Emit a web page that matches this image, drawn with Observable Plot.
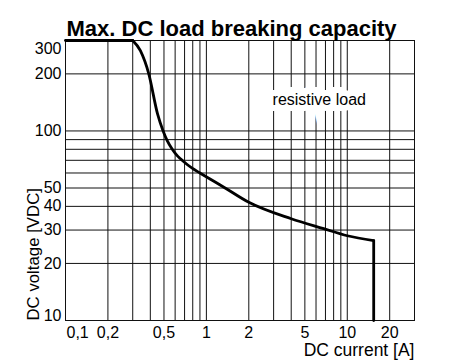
<!DOCTYPE html>
<html>
<head>
<meta charset="utf-8">
<script src="https://cdn.jsdelivr.net/npm/d3@7"></script>
<script src="https://cdn.jsdelivr.net/npm/@observablehq/plot@0.6"></script>
<style>
  html, body { margin: 0; padding: 0; background: #fff; }
  svg { display: block; }
</style>
</head>
<body>
<div id="chart"></div>
<script>
// ---- data ----
const titleText = "Max. DC load breaking capacity";
const xLabel = "DC current [A]";
const yLabel = "DC voltage [VDC]";
const noteText = "resistive load";

// limit curve (current A, voltage VDC)
const curveI = [0.3, 0.34, 0.39, 0.45, 0.493, 0.527, 0.571, 0.614, 0.655, 0.723, 0.797, 0.9, 1.33, 2, 4, 6.8, 10, 15.4];
const curveV = [300, 265, 200, 123, 100, 89, 80.4, 74.8, 71.3, 66.9, 63.4, 60, 50.5, 42, 34.4, 30.5, 28, 26.4];
// flat max-voltage part and current cut-off
const flatI = [0.1, 0.3];
const flatV = [300, 300];
const cutI = [15.4, 15.4];
const cutV = [26.4, 10];

// grid and ticks
const xGrid = [0.2, 0.3, 0.4, 0.5, 0.6, 0.7, 0.8, 0.9, 1, 2, 3, 4, 5, 6, 7, 8, 9, 10, 20];
const yGrid = [20, 30, 40, 50, 60, 70, 80, 90, 100, 200];
const xTicks = [0.2, 0.5, 1, 2, 5, 10, 20];
const xFirstTick = [0.1];
const yTicks = [20, 30, 40, 50, 100, 200];
const yTopTick = [300];
const yBottomTick = [10];
const xDomain = [0.1, 30];
const yDomain = [10, 300];
const notePos = {x: 2.95, y: 145};

const curve = curveI.map((d, i) => ({i: d, v: curveV[i]}));
const flat = flatI.map((d, i) => ({i: d, v: flatV[i]}));
const cut = cutI.map((d, i) => ({i: d, v: cutV[i]}));
const fmt = d => String(d).replace(".", ",");
const tickFont = 16;

const chart = Plot.plot({
  width: 465,
  height: 361,
  marginTop: 40,
  marginLeft: 65,
  marginRight: 51,
  marginBottom: 41,
  style: {fontFamily: "'Liberation Sans', Arial, sans-serif", background: "#fff", color: "#000"},
  x: {type: "log", domain: xDomain, axis: null},
  y: {type: "log", domain: yDomain, axis: null},
  marks: [
    Plot.ruleX(xGrid, {x: d => d, stroke: "#111", strokeWidth: 1}),
    Plot.ruleY(yGrid, {y: d => d, stroke: "#111", strokeWidth: 1}),
    Plot.frame({stroke: "#111", strokeWidth: 1}),
    Plot.text([noteText], {x: () => notePos.x, y: () => notePos.y, text: d => d,
      textAnchor: "start", lineAnchor: "middle", fontSize: 16, fill: "#000",
      stroke: "#fff", strokeWidth: 12, strokeLinejoin: "miter"}),
    Plot.line(flat, {x: "i", y: "v", stroke: "#000", strokeWidth: 2.8}),
    Plot.line(curve, {x: "i", y: "v", stroke: "#000", strokeWidth: 2.8, curve: "monotone-x"}),
    Plot.line(cut, {x: "i", y: "v", stroke: "#000", strokeWidth: 2.8}),
    // x tick labels
    Plot.text(xTicks, {x: d => d, frameAnchor: "bottom", text: fmt, lineAnchor: "top", dy: 6, fontSize: tickFont}),
    Plot.text(xFirstTick, {x: d => d, frameAnchor: "bottom", text: fmt, lineAnchor: "top", textAnchor: "start", dy: 6, dx: 1, fontSize: tickFont}),
    // y tick labels
    Plot.text(yTicks, {y: d => d, frameAnchor: "left", text: d => String(d), textAnchor: "end", lineAnchor: "middle", dx: -4, fontSize: tickFont}),
    Plot.text(yTopTick, {y: d => d, frameAnchor: "left", text: d => String(d), textAnchor: "end", lineAnchor: "top", dx: -4, dy: 2, fontSize: tickFont}),
    Plot.text(yBottomTick, {y: d => d, frameAnchor: "left", text: d => String(d), textAnchor: "end", lineAnchor: "bottom", dx: -4, fontSize: tickFont}),
    // axis titles
    Plot.text([xLabel], {frameAnchor: "bottom-right", text: d => d, textAnchor: "end", lineAnchor: "bottom", dy: 35, fontSize: 17.5}),
    Plot.text([yLabel], {frameAnchor: "bottom-left", text: d => d, rotate: -90, textAnchor: "start", lineAnchor: "bottom", dx: -26.5, fontSize: 16.8}),
    Plot.text([titleText], {frameAnchor: "top-left", text: d => d, textAnchor: "start", lineAnchor: "bottom", dy: -5, dx: 1, fontSize: 22, fontWeight: "bold"})
  ]
});
document.getElementById("chart").appendChild(chart);
</script>
</body>
</html>
